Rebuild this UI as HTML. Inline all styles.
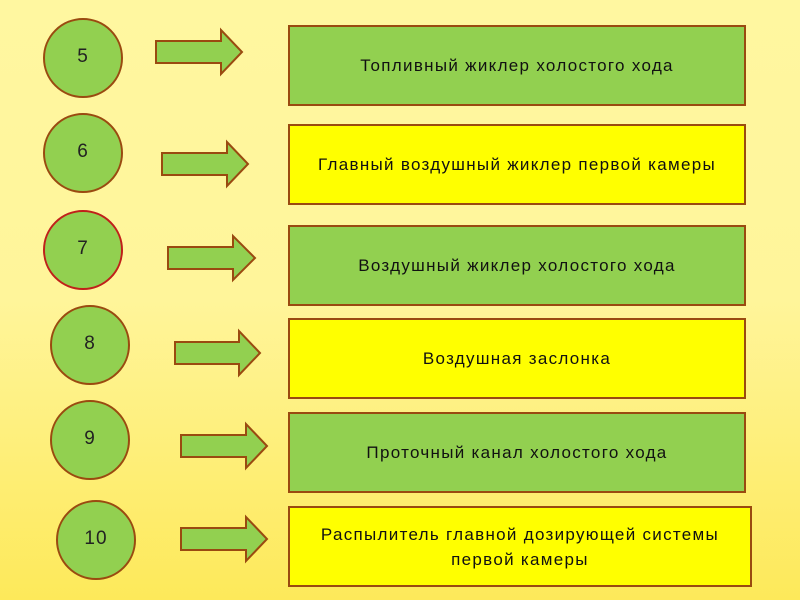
<!DOCTYPE html>
<html><head><meta charset="utf-8"><style>
body{margin:0;width:800px;height:600px;overflow:hidden;background:linear-gradient(180deg,#fff7a0 0%,#fff59a 50%,#fde95a 100%);font-family:"Liberation Sans",sans-serif;position:relative}
.c{position:absolute;width:76px;height:76px;border:2px solid #9a4a10;border-radius:50%;background:#92d050;font-size:19px;display:flex;align-items:center;justify-content:center;color:#222;box-sizing:content-box;letter-spacing:1px}
.c span{margin-top:-2px}
.b{position:absolute;left:288px;width:454px;height:77px;border:2px solid #9a4a10;display:flex;align-items:center;justify-content:center;text-align:center;font-size:17px;letter-spacing:1.3px;color:#111;line-height:25px}
.g{background:#92d050}.y{background:#ffff00}
svg{position:absolute;left:0;top:0}
</style></head><body>
<div class="c" style="left:43px;top:18px"><span>5</span></div>
<div class="c" style="left:43px;top:113px"><span>6</span></div>
<div class="c" style="left:43px;top:210px;border-color:#c0201a"><span>7</span></div>
<div class="c" style="left:50px;top:305px"><span>8</span></div>
<div class="c" style="left:50px;top:400px"><span>9</span></div>
<div class="c" style="left:56px;top:500px"><span>10</span></div>
<svg width="800" height="600">
<g fill="#92d050" stroke="#9a4a10" stroke-width="2">
<path d="M156,41H221V30L242,52L221,74V63H156Z"/>
<path d="M162,153H227V142L248,164L227,186V175H162Z"/>
<path d="M168,247H233V236L255,258L233,280V269H168Z"/>
<path d="M175,342H239V331L260,353L239,375V364H175Z"/>
<path d="M181,435H246V424L267,446L246,468V457H181Z"/>
<path d="M181,528H246V517L267,539L246,561V550H181Z"/>
</g></svg>
<div class="b g" style="top:25px"><span>Топливный жиклер холостого хода</span></div>
<div class="b y" style="top:124px"><span>Главный воздушный жиклер первой камеры</span></div>
<div class="b g" style="top:225px"><span>Воздушный жиклер холостого хода</span></div>
<div class="b y" style="top:318px"><span>Воздушная заслонка</span></div>
<div class="b g" style="top:412px"><span>Проточный канал холостого хода</span></div>
<div class="b y" style="top:506px;width:460px"><span>Распылитель главной дозирующей системы<br>первой камеры</span></div>
</body></html>
